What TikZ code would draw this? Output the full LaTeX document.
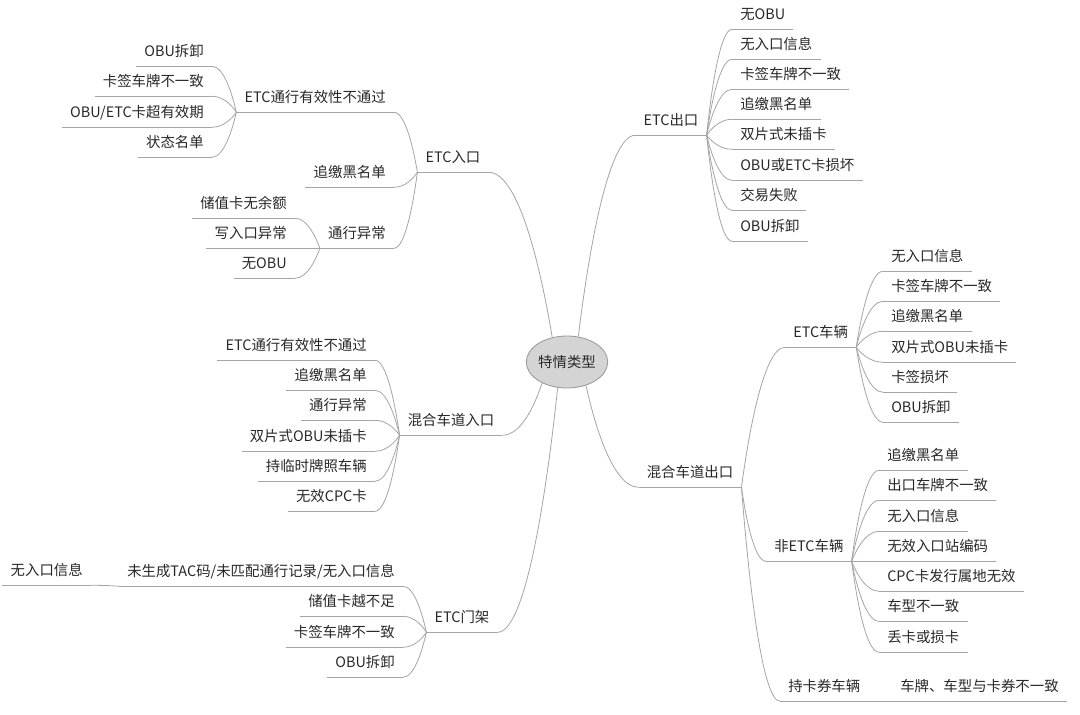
\documentclass[tikz,border=0pt]{standalone}
\usepackage{fontspec}
\newfontfamily\cjk{Noto Sans CJK SC}
\usepackage{tikz}
\usetikzlibrary{positioning,shapes.geometric,calc}
\definecolor{linegray}{RGB}{165,165,165}
\definecolor{txtgray}{RGB}{40,40,40}
\definecolor{rootfill}{RGB}{212,212,212}
\definecolor{rootdraw}{RGB}{150,150,150}

\tikzset{
  topic/.style={font=\cjk\fontsize{10.8}{12}\selectfont, text=txtgray,
    inner xsep=6pt, inner ysep=0pt, minimum height=22.5pt,
    text height=0.9em, text depth=0.1em},
  uline/.style={draw=linegray, line width=0.6pt},
  link/.style={draw=linegray, line width=0.6pt,
    to path={let \p1=(\tikztostart), \p2=(\tikztotarget) in
      .. controls ($(\p1)+(0.15*\x2-0.15*\x1,0.35*\y2-0.35*\y1)$)
      and ($(\p2)+(0.5*\x1-0.5*\x2,0)$) .. (\tikztotarget)}}
}

\begin{document}
\begin{tikzpicture}[x=0.75pt, y=-0.75pt]
\useasboundingbox (0,0) rectangle (1080,714);
% centre
\node[ellipse, draw=rootdraw, fill=rootfill, line width=0.6pt, minimum width=60pt, minimum height=39pt, inner sep=0pt,
  font=\cjk\fontsize{10.8}{12}\selectfont, text=txtgray] (root) at (567,362) {特情类型};
% main branches
\node[topic] (etcin) at (453,157) {ETC入口};
\node[topic] (etcout) at (671,120) {ETC出口};
\node[topic] (mixin) at (451,420) {混合车道入口};
\node[topic] (mixout) at (690,472) {混合车道出口};
\node[topic] (gantry) at (462,617) {ETC门架};
% ETC entry
\node[topic, anchor=east] (in1) at (394,97) {ETC通行有效性不通过};
\node[topic, anchor=east] (in2) at (394,172) {追缴黑名单};
\node[topic, anchor=east] (in3) at (394,233) {通行异常};
\node[topic, anchor=east] (in1a) at (212,51) {OBU拆卸};
\node[topic, anchor=east] (in1b) at (212,81) {卡签车牌不一致};
\node[topic, anchor=east] (in1c) at (212,112) {OBU/ETC卡超有效期};
\node[topic, anchor=east] (in1d) at (212,142) {状态名单};
\node[topic, anchor=east] (in3a) at (295,203) {储值卡无余额};
\node[topic, anchor=east] (in3b) at (295,233) {写入口异常};
\node[topic, anchor=east] (in3c) at (295,263) {无OBU};
% ETC exit
\node[topic, anchor=west] (out1) at (732,14) {无OBU};
\node[topic, anchor=west] (out2) at (732,44) {无入口信息};
\node[topic, anchor=west] (out3) at (732,74) {卡签车牌不一致};
\node[topic, anchor=west] (out4) at (732,104) {追缴黑名单};
\node[topic, anchor=west] (out5) at (732,134) {双片式未插卡};
\node[topic, anchor=west] (out6) at (732,165) {OBU或ETC卡损坏};
\node[topic, anchor=west] (out7) at (732,195) {交易失败};
\node[topic, anchor=west] (out8) at (732,226) {OBU拆卸};
% mixed lane entry
\node[topic, anchor=east] (mi1) at (375,345) {ETC通行有效性不通过};
\node[topic, anchor=east] (mi2) at (375,375) {追缴黑名单};
\node[topic, anchor=east] (mi3) at (375,405) {通行异常};
\node[topic, anchor=east] (mi4) at (375,436) {双片式OBU未插卡};
\node[topic, anchor=east] (mi5) at (375,466) {持临时牌照车辆};
\node[topic, anchor=east] (mi6) at (375,496) {无效CPC卡};
% mixed lane exit
\node[topic, anchor=west] (mo1) at (785,332) {ETC车辆};
\node[topic, anchor=west] (mo2) at (766,546) {非ETC车辆};
\node[topic, anchor=west] (mo3) at (780,686) {持卡券车辆};
\node[topic, anchor=west] (mo1a) at (883,256) {无入口信息};
\node[topic, anchor=west] (mo1b) at (883,286) {卡签车牌不一致};
\node[topic, anchor=west] (mo1c) at (883,316) {追缴黑名单};
\node[topic, anchor=west] (mo1d) at (883,347) {双片式OBU未插卡};
\node[topic, anchor=west] (mo1e) at (883,377) {卡签损坏};
\node[topic, anchor=west] (mo1f) at (883,407) {OBU拆卸};
\node[topic, anchor=west] (mo2a) at (879,455) {追缴黑名单};
\node[topic, anchor=west] (mo2b) at (879,485) {出口车牌不一致};
\node[topic, anchor=west] (mo2c) at (879,516) {无入口信息};
\node[topic, anchor=west] (mo2d) at (879,546) {无效入口站编码};
\node[topic, anchor=west] (mo2e) at (879,576) {CPC卡发行属地无效};
\node[topic, anchor=west] (mo2f) at (879,606) {车型不一致};
\node[topic, anchor=west] (mo2g) at (879,637) {丢卡或损卡};
\node[topic, anchor=west] (mo3a) at (892,686) {车牌、车型与卡券不一致};
% gantry
\node[topic, anchor=east] (g1) at (403,571) {未生成TAC码/未匹配通行记录/无入口信息};
\node[topic, anchor=east] (g2) at (403,601) {储值卡越不足};
\node[topic, anchor=east] (g3) at (403,632) {卡签车牌不一致};
\node[topic, anchor=east] (g4) at (403,662) {OBU拆卸};
\node[topic, anchor=east] (g1a) at (91,570) {无入口信息};
% underlines
\foreach \n in {etcin,etcout,mixin,mixout,gantry,in1,in2,in3,in1a,in1b,in1c,in1d,in3a,in3b,in3c,
  out1,out2,out3,out4,out5,out6,out7,out8,mi1,mi2,mi3,mi4,mi5,mi6,mo1,mo2,mo3,
  mo1a,mo1b,mo1c,mo1d,mo1e,mo1f,mo2a,mo2b,mo2c,mo2d,mo2e,mo2f,mo2g,mo3a,g1,g2,g3,g4,g1a}
  \draw[uline] (\n.south west) -- (\n.south east);
% connectors
\draw[link] (root.121) to (etcin.south east);
\draw[link] (root.66) to (etcout.south west);
\draw[link] (root.-140) to (mixin.south east);
\draw[link] (root.-51) to (mixout.south west);
\draw[link] (root.-110) to (gantry.south east);
\foreach \c in {in1,in2,in3} \draw[link] (etcin.south west) to (\c.south east);
\foreach \c in {in1a,in1b,in1c,in1d} \draw[link] (in1.south west) to (\c.south east);
\foreach \c in {in3a,in3b,in3c} \draw[link] (in3.south west) to (\c.south east);
\foreach \c in {out1,out2,out3,out4,out5,out6,out7,out8} \draw[link] (etcout.south east) to (\c.south west);
\foreach \c in {mi1,mi2,mi3,mi4,mi5,mi6} \draw[link] (mixin.south west) to (\c.south east);
\foreach \c in {mo1,mo2,mo3} \draw[link] (mixout.south east) to (\c.south west);
\foreach \c in {mo1a,mo1b,mo1c,mo1d,mo1e,mo1f} \draw[link] (mo1.south east) to (\c.south west);
\foreach \c in {mo2a,mo2b,mo2c,mo2d,mo2e,mo2f,mo2g} \draw[link] (mo2.south east) to (\c.south west);
\draw[link] (mo3.south east) to (mo3a.south west);
\foreach \c in {g1,g2,g3,g4} \draw[link] (gantry.south west) to (\c.south east);
\draw[link] (g1.south west) to (g1a.south east);
\end{tikzpicture}
\end{document}
